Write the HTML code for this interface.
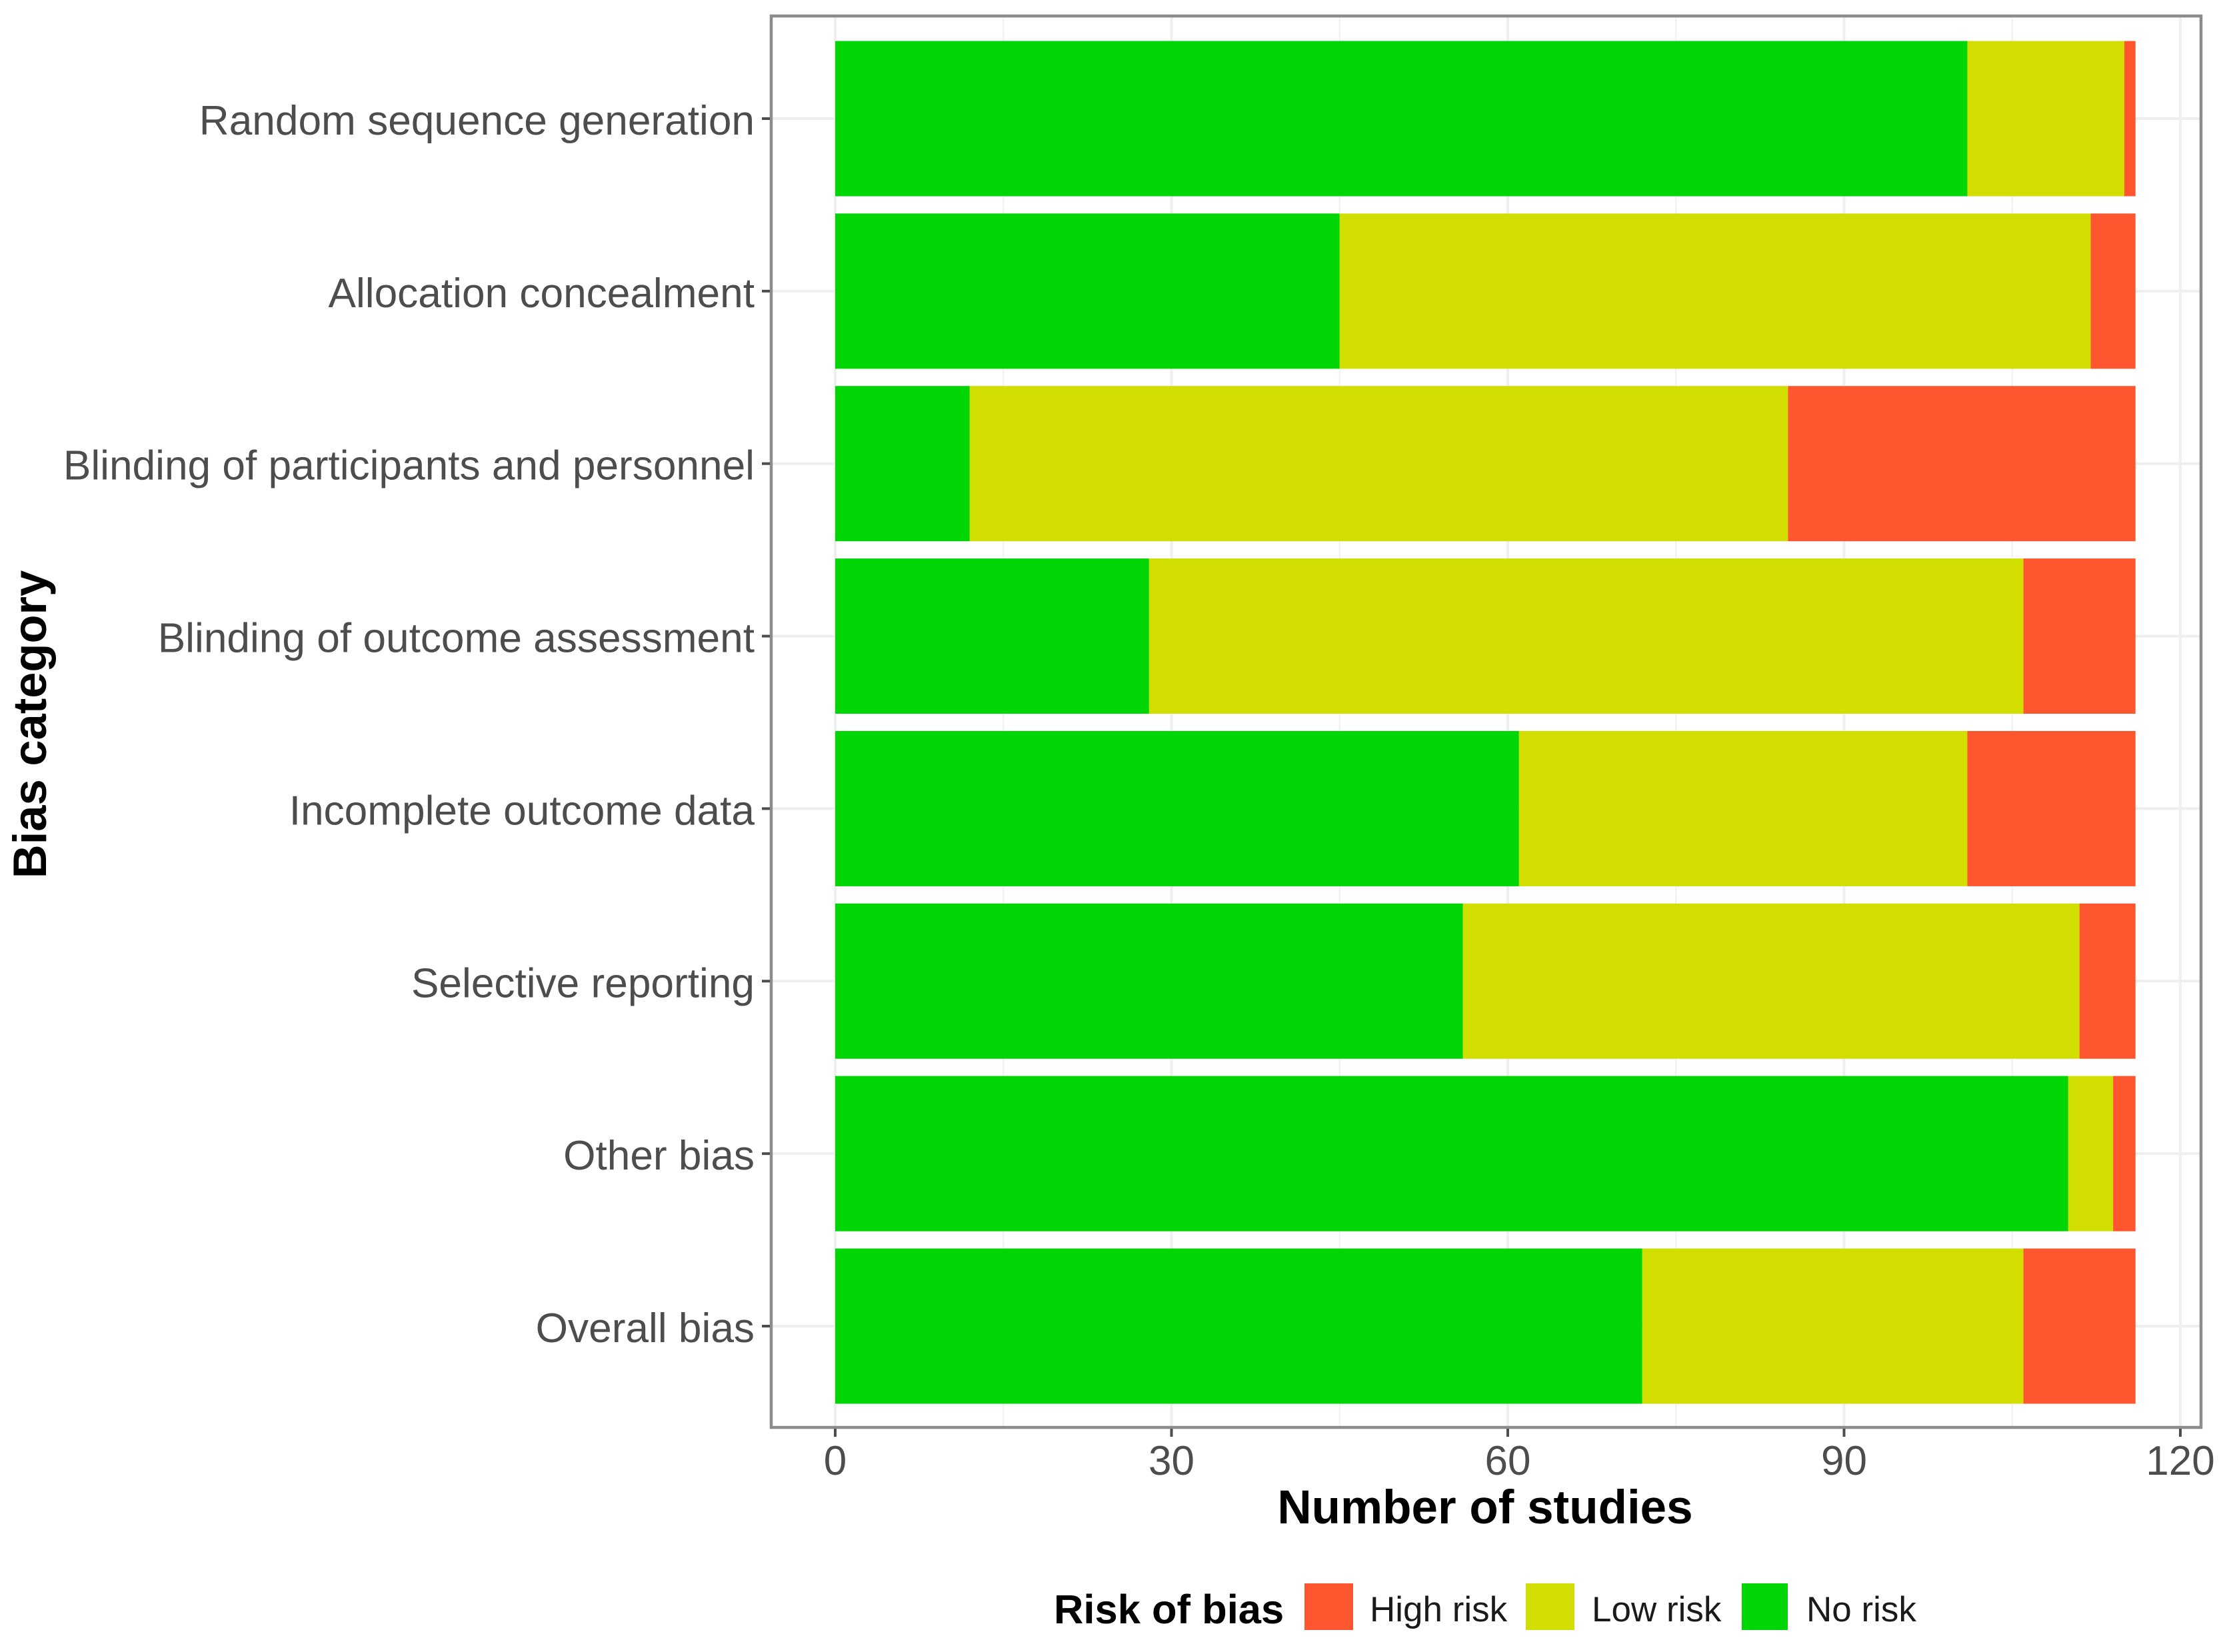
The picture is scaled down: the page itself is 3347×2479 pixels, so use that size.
<!DOCTYPE html>
<html lang="en">
<head>
<meta charset="utf-8">
<title>Risk of bias by category</title>
<style>
  html, body { margin: 0; padding: 0; background: #fff; }
  body { width: 3347px; height: 2479px; overflow: hidden; }
  svg { display: block; font-family: "Liberation Sans", Arial, sans-serif; }
</style>
</head>
<body>
<svg id="chart" xmlns="http://www.w3.org/2000/svg" width="3347" height="2479" viewBox="0 0 3347 2479">
  <rect x="0" y="0" width="3347" height="2479" fill="#ffffff"/>
  <g id="grid"></g>
  <g id="bars"></g>
  <rect x="1157" y="24" width="2145" height="2118" fill="none" stroke="#8c8c8c" stroke-width="4.5"/>
  <g id="ticks"></g>
  <g id="labels"></g>
  <text x="2228" y="2286" font-size="71" font-weight="700" fill="#000" text-anchor="middle">Number of studies</text>
  <text transform="translate(69,1087) rotate(-90)" font-size="70.5" font-weight="700" fill="#000" text-anchor="middle">Bias category</text>
  <g>
    <text x="1581" y="2436" font-size="61.5" font-weight="700" fill="#000">Risk of bias</text>
    <rect x="1957" y="2376" width="73" height="70" fill="#ff5630"/>
    <text x="2055" y="2433" font-size="53" fill="#1a1a1a">High risk</text>
    <rect x="2289" y="2376" width="73" height="70" fill="#d2de00"/>
    <text x="2388" y="2433" font-size="53" fill="#1a1a1a">Low risk</text>
    <rect x="2613" y="2376" width="69" height="70" fill="#00d505"/>
    <text x="2710" y="2433" font-size="53" fill="#1a1a1a">No risk</text>
  </g>
</svg>
<script>
const categories = ["Random sequence generation", "Allocation concealment", "Blinding of participants and personnel", "Blinding of outcome assessment", "Incomplete outcome data", "Selective reporting", "Other bias", "Overall bias"];
const noRisk = [101, 45, 12, 28, 61, 56, 110, 72];
const lowRisk = [14, 67, 73, 78, 40, 55, 4, 34];
const highRisk = [1, 4, 31, 10, 15, 5, 2, 10];
const xTicks = [0, 30, 60, 90, 120];
const xMinorTicks = [15, 45, 75, 105];

const NS = "http://www.w3.org/2000/svg";
const panel = { left: 1159, right: 3300, top: 26, bottom: 2140 };

function xScale(v) { return 1253 + v * (3271 - 1253) / 120; }
function yScale(i) { return 178 + i * (1990 - 178) / (categories.length - 1); }
const barHeight = 0.9 * (1990 - 178) / (categories.length - 1);

function make(tag, parent, props) {
  const el = document.createElementNS(NS, tag);
  for (const k in props) el.setAttribute(k, props[k]);
  parent.appendChild(el);
  return el;
}

const grid = document.getElementById("grid");
const bars = document.getElementById("bars");
const ticks = document.getElementById("ticks");
const labels = document.getElementById("labels");

xMinorTicks.forEach(function (v) {
  const el = make("line", grid, { x1: xScale(v), x2: xScale(v), y1: panel.top, y2: panel.bottom, stroke: "#f0f0f0", "stroke-width": 2 });
  
  
});

xTicks.forEach(function (v) {
  const line = make("line", grid, { x1: xScale(v), x2: xScale(v), y1: panel.top, y2: panel.bottom, stroke: "#efefef", "stroke-width": 4 });
  
  

  const tick = make("line", ticks, { x1: xScale(v), x2: xScale(v), y1: panel.bottom + 4, y2: panel.bottom + 16, stroke: "#4d4d4d", "stroke-width": 4 });
  
  

  const label = make("text", labels, { x: xScale(v), y: 2213, "font-size": 62, fill: "#4d4d4d", "text-anchor": "middle" });
  label.textContent = v;
  
  
});

categories.forEach(function (name, i) {
  const y = yScale(i);

  const line = make("line", grid, { x1: panel.left, x2: panel.right, y1: y, y2: y, stroke: "#efefef", "stroke-width": 4 });
  
  

  const tick = make("line", ticks, { x1: 1143, x2: 1155, y1: y, y2: y, stroke: "#4d4d4d", "stroke-width": 4 });
  
  

  const label = make("text", labels, { x: 1132, y: y + 24, "font-size": 62.2, fill: "#4d4d4d", "text-anchor": "end" });
  label.textContent = name;
  
  

  const top = y - barHeight / 2;

  const noBar = make("rect", bars, { x: xScale(0), y: top, width: xScale(noRisk[i]) - xScale(0), height: barHeight, fill: "#00d505" });
  
  

  const lowEnd = noRisk[i] + lowRisk[i];
  const lowBar = make("rect", bars, { x: xScale(noRisk[i]), y: top, width: xScale(lowEnd) - xScale(noRisk[i]), height: barHeight, fill: "#d2de00" });
  
  

  const highEnd = lowEnd + highRisk[i];
  const highBar = make("rect", bars, { x: xScale(lowEnd), y: top, width: xScale(highEnd) - xScale(lowEnd), height: barHeight, fill: "#ff5630" });
  
  
});
</script>
</body>
</html>
